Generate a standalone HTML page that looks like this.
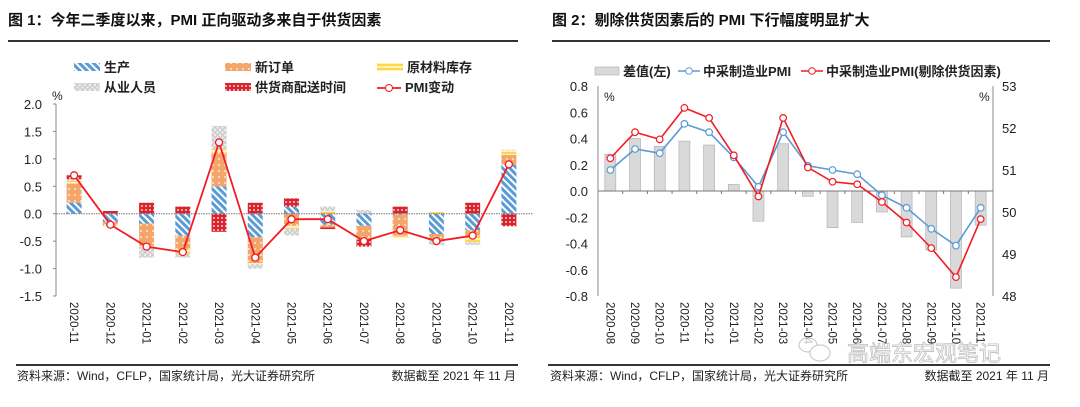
<!DOCTYPE html>
<html><head><meta charset="utf-8"><style>
body{margin:0;background:#fff;width:1080px;height:402px;overflow:hidden;font-family:"Liberation Sans","Noto Sans CJK SC",sans-serif}
svg text{font-family:"Liberation Sans","Noto Sans CJK SC",sans-serif}
</style></head><body>
<svg id="s" width="1080" height="402">
<defs>
<pattern id="pProd" width="5" height="5" patternUnits="userSpaceOnUse" patternTransform="rotate(-45)"><rect width="5" height="5" fill="#fff"/><rect width="3" height="5" fill="#5b9bd5"/></pattern>
<pattern id="pOrd" width="6" height="6" patternUnits="userSpaceOnUse"><rect width="6" height="6" fill="#f4a56a"/><circle cx="3" cy="3" r="0.9" fill="#fff"/></pattern>
<pattern id="pInv" width="4" height="4" patternUnits="userSpaceOnUse"><rect width="4" height="4" fill="#fff3b0"/><rect width="4" height="2" fill="#ffd54f"/></pattern>
<pattern id="pEmp" width="5" height="5" patternUnits="userSpaceOnUse"><rect width="5" height="5" fill="#eee"/><circle cx="2.5" cy="2.5" r="1.8" fill="none" stroke="#bbb" stroke-width="0.9"/></pattern>
<pattern id="pDel" width="4" height="4" patternUnits="userSpaceOnUse"><rect width="4" height="4" fill="#d9232d"/><circle cx="2" cy="2" r="0.9" fill="#fff"/></pattern>
</defs>
<g id="titles">
<text x="8" y="25" font-size="15" font-weight="bold" fill="#111">图 1：今年二季度以来，PMI 正向驱动多来自于供货因素</text>
<rect x="8" y="40" width="510" height="2" fill="#333"/>
<text x="552" y="25" font-size="15" font-weight="bold" fill="#111">图 2：剔除供货因素后的 PMI 下行幅度明显扩大</text>
<rect x="552" y="40" width="498" height="2" fill="#333"/>
<rect x="16" y="364" width="502" height="2" fill="#333"/>
<text x="17" y="380" font-size="12" fill="#222">资料来源：Wind，CFLP，国家统计局，光大证券研究所</text>
<text x="516" y="380" font-size="12" fill="#222" text-anchor="end">数据截至 2021 年 11 月</text>
<rect x="548" y="364" width="502" height="2" fill="#333"/>
<text x="550" y="380" font-size="12" fill="#222">资料来源：Wind，CFLP，国家统计局，光大证券研究所</text>
<text x="1049" y="380" font-size="12" fill="#222" text-anchor="end">数据截至 2021 年 11 月</text>
</g>
<g id="c1"></g><g id="c2"></g>
<g opacity="0.75">
<ellipse cx="808" cy="345" rx="9" ry="7" fill="#fff" stroke="#bbb" stroke-width="1.2"/>
<ellipse cx="820" cy="353" rx="10" ry="8" fill="#fff" stroke="#bbb" stroke-width="1.2"/>
<text x="847" y="361" font-size="22" fill="#fff" stroke="#aaa" stroke-width="0.8">高端东宏观笔记</text>
</g>
</svg>
<script>
const NS="http://www.w3.org/2000/svg";
function mk(p,t,a){const e=document.createElementNS(NS,t);for(const k in a)e.setAttribute(k,a[k]);p.appendChild(e);return e;}
// ---- Chart 1 data ----
const cats1=["2020-11","2020-12","2021-01","2021-02","2021-03","2021-04","2021-05","2021-06","2021-07","2021-08","2021-09","2021-10","2021-11"];
const production=[0.2,-0.15,-0.18,-0.4,0.5,-0.43,0.13,-0.2,-0.22,-0.02,-0.37,-0.3,0.9];
const newOrders=[0.35,-0.07,-0.4,-0.25,0.62,-0.47,-0.22,-0.05,-0.23,-0.38,-0.11,-0.1,0.17];
const inventory=[0.05,-0.01,-0.02,-0.08,0.06,-0.02,-0.05,0.05,-0.02,-0.03,0.03,-0.12,0.08];
const employment=[0.03,0,-0.2,-0.07,0.42,-0.08,-0.13,0.08,0.07,0,-0.09,-0.05,0.02];
const delivery=[0.07,0.05,0.2,0.13,-0.33,0.2,0.15,-0.03,-0.13,0.13,0,0.2,-0.23];
const pmiChange=[0.7,-0.2,-0.6,-0.7,1.3,-0.8,-0.1,-0.1,-0.5,-0.3,-0.5,-0.4,0.9];
const ticks1=[2.0,1.5,1.0,0.5,0.0,-0.5,-1.0,-1.5];
const c1=document.getElementById('c1');
const L1=56,R1=527,yT1=104,yB1=296;
const y1=v=>yT1+(2-v)/3.5*(yB1-yT1);
const bw1=(R1-L1)/cats1.length;
const x1=i=>L1+bw1*(i+0.5);
let e;
ticks1.forEach(t=>{e=mk(c1,'text',{x:42,y:y1(t)+5,'font-size':13,fill:'#222','text-anchor':'end'});e.textContent=t.toFixed(1);


mk(c1,'line',{x1:L1-3,x2:L1,y1:y1(t),y2:y1(t),stroke:'#888'});});
e=mk(c1,'line',{x1:L1,x2:L1,y1:yT1,y2:yB1,stroke:'#888'});


e=mk(c1,'text',{x:52,y:100,'font-size':12,fill:'#222'});e.textContent='%';


const series1=[[production,'url(#pProd)','bar-production'],[newOrders,'url(#pOrd)','bar-new-orders'],[inventory,'url(#pInv)','bar-inventory'],[employment,'url(#pEmp)','bar-employment'],[delivery,'url(#pDel)','bar-delivery']];
cats1.forEach((c,i)=>{let pos=0,neg=0;
series1.forEach(([arr,fill,nm])=>{const v=arr[i];if(!v)return;let a,b;if(v>0){a=pos;b=pos+v;pos=b;}else{a=neg;b=neg+v;neg=b;}
e=mk(c1,'rect',{x:x1(i)-7.5,width:15,y:Math.min(y1(a),y1(b)),height:Math.abs(y1(a)-y1(b)),fill:fill});

});
e=mk(c1,'text',{'font-size':11.5,fill:'#222',transform:`translate(${x1(i)-4},302) rotate(90)`});e.textContent=c;

});
e=mk(c1,'line',{x1:L1,x2:533,y1:y1(0),y2:y1(0),stroke:'#777','stroke-dasharray':'1.5,1'});


e=mk(c1,'polyline',{points:pmiChange.map((v,i)=>x1(i)+','+y1(v)).join(' '),fill:'none',stroke:'#f21c24','stroke-width':1.8});


pmiChange.forEach((v,i)=>{e=mk(c1,'circle',{cx:x1(i),cy:y1(v),r:3.5,fill:'#fff',stroke:'#f21c24','stroke-width':1.3});

});
// legend 1
const leg1=[[74,68,'url(#pProd)','生产'],[225,68,'url(#pOrd)','新订单'],[377,68,'url(#pInv)','原材料库存'],[74,88,'url(#pEmp)','从业人员'],[225,88,'url(#pDel)','供货商配送时间']];
leg1.forEach(([x,y,f,t])=>{e=mk(c1,'rect',{x:x,y:y-5,width:26,height:8,fill:f});


e=mk(c1,'text',{x:x+30,y:y+4,'font-size':13,'font-weight':'bold',fill:'#222'});e.textContent=t;

});
mk(c1,'line',{x1:377,x2:401,y1:88,y2:88,stroke:'#f21c24','stroke-width':1.8});
mk(c1,'circle',{cx:389,cy:88,r:3.5,fill:'#fff',stroke:'#f21c24'});
e=mk(c1,'text',{x:405,y:92,'font-size':13,'font-weight':'bold',fill:'#222'});e.textContent='PMI变动';


// ---- Chart 2 data ----
const cats2=["2020-08","2020-09","2020-10","2020-11","2020-12","2021-01","2021-02","2021-03","2021-04","2021-05","2021-06","2021-07","2021-08","2021-09","2021-10","2021-11"];
const diff=[0.28,0.40,0.34,0.38,0.35,0.05,-0.23,0.36,-0.04,-0.28,-0.24,-0.16,-0.35,-0.45,-0.74,-0.26];
const pmi=[51.0,51.5,51.4,52.1,51.9,51.3,50.6,51.9,51.1,51.0,50.9,50.4,50.1,49.6,49.2,50.1];
const pmiEx=[51.28,51.9,51.73,52.48,52.24,51.35,50.37,52.24,51.06,50.72,50.66,50.24,49.75,49.14,48.45,49.83];
const ticksL2=[0.8,0.6,0.4,0.2,0.0,-0.2,-0.4,-0.6,-0.8];
const ticksR2=[53,52,51,50,49,48];
const c2=document.getElementById('c2');
const L2=598,R2=993,yT2=86,yB2=296;
const yl=v=>yT2+(0.8-v)/1.6*(yB2-yT2);
const yr=v=>yT2+(53-v)/5*(yB2-yT2);
const bw2=(R2-L2)/cats2.length;
const x2=i=>L2+bw2*(i+0.5);
ticksL2.forEach(t=>{e=mk(c2,'text',{x:588,y:yl(t)+5,'font-size':13,fill:'#222','text-anchor':'end'});e.textContent=t.toFixed(1);

});
ticksR2.forEach(t=>{e=mk(c2,'text',{x:1002,y:yr(t)+5,'font-size':13,fill:'#222'});e.textContent=t;

});
mk(c2,'line',{x1:L2,x2:L2,y1:yT2,y2:yB2,stroke:'#888'});
mk(c2,'line',{x1:R2,x2:R2,y1:yT2,y2:yB2,stroke:'#888'});
e=mk(c2,'text',{x:604,y:101,'font-size':12,fill:'#222'});e.textContent='%';


e=mk(c2,'text',{x:979,y:101,'font-size':12,fill:'#222'});e.textContent='%';


diff.forEach((v,i)=>{e=mk(c2,'rect',{x:x2(i)-5.5,width:11,y:Math.min(yl(0),yl(v)),height:Math.abs(yl(v)-yl(0)),fill:'#d9d9d9',stroke:'#aaa','stroke-width':0.6});

});
mk(c2,'line',{x1:L2,x2:R2,y1:yl(0),y2:yl(0),stroke:'#777'});
for(let i=1;i<cats2.length;i++)mk(c2,'line',{x1:L2+bw2*i,x2:L2+bw2*i,y1:yl(0),y2:yl(0)+3,stroke:'#777'});
cats2.forEach((c,i)=>{e=mk(c2,'text',{'font-size':11.5,fill:'#222',transform:`translate(${x2(i)-4},302) rotate(90)`});e.textContent=c;

});
[[pmi,'#5b9bd5','pmi-line'],[pmiEx,'#f21c24','pmi-ex-supply-line']].forEach(([arr,col,nm])=>{
e=mk(c2,'polyline',{points:arr.map((v,i)=>x2(i)+','+yr(v)).join(' '),fill:'none',stroke:col,'stroke-width':1.6});


arr.forEach((v,i)=>{e=mk(c2,'circle',{cx:x2(i),cy:yr(v),r:3.3,fill:'#fff',stroke:col,'stroke-width':1.2});

});});
// legend 2
e=mk(c2,'rect',{x:595,y:67,width:24,height:8,fill:'#d9d9d9',stroke:'#aaa','stroke-width':0.6});


e=mk(c2,'text',{x:623,y:76,'font-size':13,'font-weight':'bold',fill:'#222'});e.textContent='差值(左)';


[[678,'#5b9bd5','中采制造业PMI',703],[801,'#f21c24','中采制造业PMI(剔除供货因素)',826]].forEach(([x,col,t,tx])=>{
mk(c2,'line',{x1:x,x2:x+22,y1:71,y2:71,stroke:col,'stroke-width':1.6});
mk(c2,'circle',{cx:x+11,cy:71,r:3.3,fill:'#fff',stroke:col});
e=mk(c2,'text',{x:tx,y:76,'font-size':13,'font-weight':'bold',fill:'#222'});e.textContent=t;

});
</script>
</body></html>
